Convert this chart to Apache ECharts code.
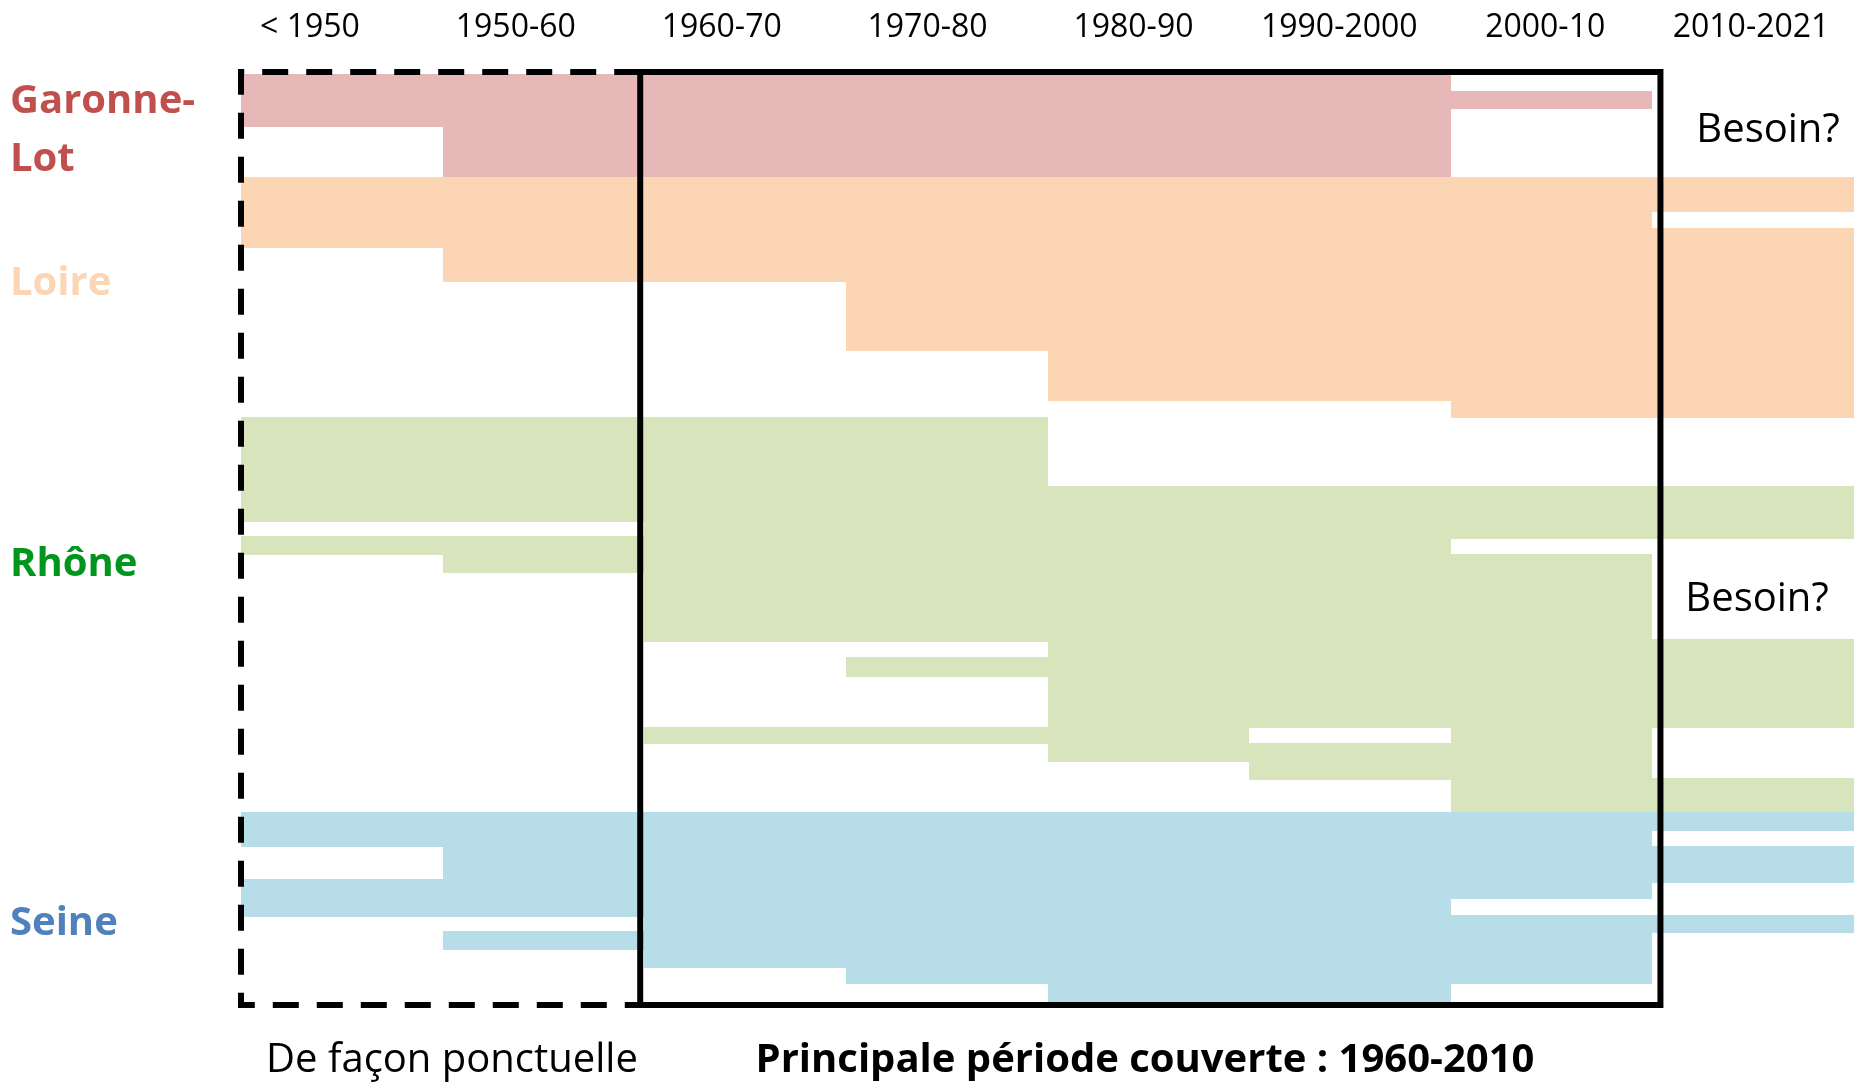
<!DOCTYPE html>
<html>
<head>
<meta charset="utf-8">
<script src="https://cdn.jsdelivr.net/npm/echarts@6/dist/echarts.min.js"></script>
<style>
	html, body { margin: 0; padding: 0; background: #fff; }
	#chart { width: 1861px; height: 1084px; }
</style>
</head>
<body>
<div id="chart"></div>
<script>
'use strict';

// decades (columns 0..7)
var decades = ['< 1950', '1950-60', '1960-70', '1970-80', '1980-90', '1990-2000', '2000-10', '2010-2021'];
var basins = ['Garonne-\nLot', 'Loire', 'Rhône', 'Seine'];

// records: [first column, end column, top rank, bottom rank] (rank axis runs downward)
var garonne = [
	[0, 1, 2, 55], [1, 6, 2, 105], [6, 7, 19, 37]
];
var loire = [
	[0, 1, 105, 176], [1, 3, 105, 210], [3, 4, 105, 279], [4, 6, 105, 329],
	[6, 7, 105, 346], [7, 8, 105, 140], [7, 8, 156, 346]
];
var rhone = [
	[0, 2, 345, 450], [0, 1, 464, 483], [1, 2, 464, 501], [2, 4, 345, 570],
	[3, 4, 585, 605], [2, 4, 655, 672], [4, 5, 414, 690], [5, 6, 414, 656],
	[5, 6, 671, 708], [6, 8, 414, 467], [6, 7, 482, 740], [7, 8, 567, 656],
	[7, 8, 706, 740]
];
var seine = [
	[0, 1, 740, 775], [0, 1, 807, 845], [1, 2, 740, 845], [1, 2, 859, 878],
	[2, 3, 740, 896], [3, 4, 740, 912], [4, 6, 740, 930], [6, 7, 740, 827],
	[6, 7, 843, 912], [7, 8, 740, 759], [7, 8, 774, 811], [7, 8, 843, 861]
];

// periods framed: ponctual (dashed) and main period (solid)
var frames = [[0, 1.98, 0, 933, 'dashed'], [1.98, 7.04, 0, 933, 'solid']];

var fillColors = ['#E6B8B7', '#FCD5B4', '#D8E4BC', '#B7DEE8'];
var labelColors = ['#C0504D', '#FCD5B4', '#00961E', '#4F81BD'];
var FONT = '"Open Sans", sans-serif';

function renderBar(params, api) {
	var p0 = api.coord([api.value(0), api.value(2)]);
	var p1 = api.coord([api.value(1), api.value(3)]);
	var x0 = Math.round(p0[0]), x1 = Math.round(p1[0]);
	var y0 = Math.round(p0[1]), y1 = Math.round(p1[1]);
	return {
		type: 'rect',
		shape: { x: x0, y: y0, width: x1 - x0, height: y1 - y0 },
		style: { fill: api.visual('color') }
	};
}

function renderFrame(params, api) {
	var x0 = api.value(0), x1 = api.value(1), y0 = api.value(2), y1 = api.value(3);
	var dashed = frames[params.dataIndex][4] === 'dashed';
	var a = api.coord([x0, y0]), b = api.coord([x1, y0]);
	var c = api.coord([x1, y1]), d = api.coord([x0, y1]);
	if (dashed) {
		return {
			type: 'polyline',
			shape: { points: [b, a, d, c] },
			style: { stroke: '#000', lineWidth: 6, fill: null, lineDash: [26, 18] }
		};
	}
	return {
		type: 'polygon',
		shape: { points: [a, b, c, d] },
		style: { stroke: '#000', lineWidth: 6, fill: null }
	};
}

var groups = [garonne, loire, rhone, seine];
var series = groups.map(function (d, i) {
	return {
		name: basins[i],
		type: 'custom',
		renderItem: renderBar,
		encode: { x: [0, 1], y: [2, 3] },
		itemStyle: { color: fillColors[i] },
		data: d,
		silent: true
	};
});
series.push({
	type: 'custom',
	renderItem: renderFrame,
	encode: { x: [0, 1], y: [2, 3] },
	data: frames.map(function (f) { return f.slice(0, 4); }),
	z: 10,
	silent: true
});

var basinLabelPos = [[10, 131], [10, 284], [10, 565], [10, 924]];

var graphic = basins.map(function (b, i) {
	return {
		type: 'text',
		left: basinLabelPos[i][0],
		top: basinLabelPos[i][1] - (i === 0 ? 58 : 29),
		style: {
			text: b,
			font: 'bold 40px ' + FONT,
			fill: labelColors[i],
			lineHeight: 58
		}
	};
});
graphic.push(
	{ type: 'text', x: 1768, y: 131, style: { text: 'Besoin?', font: '40px ' + FONT, fill: '#000', textAlign: 'center', textVerticalAlign: 'middle' } },
	{ type: 'text', x: 1757, y: 600, style: { text: 'Besoin?', font: '40px ' + FONT, fill: '#000', textAlign: 'center', textVerticalAlign: 'middle' } },
	{ type: 'text', x: 452, y: 1061, style: { text: 'De façon ponctuelle', font: '40px ' + FONT, fill: '#000', textAlign: 'center', textVerticalAlign: 'middle' } },
	{ type: 'text', x: 1145, y: 1061, style: { text: 'Principale période couverte : 1960-2010', font: 'bold 40px ' + FONT, fill: '#000', textAlign: 'center', textVerticalAlign: 'middle' } }
);

var option = {
	animation: false,
	backgroundColor: '#fff',
	grid: [
		{ left: 241, right: 7, top: 72, bottom: 79 },
		{ left: 207, right: 7, top: 72, bottom: 79 }
	],
	xAxis: [
		{ type: 'value', gridIndex: 0, min: 0, max: 8, show: false },
		{
			type: 'category', gridIndex: 1, position: 'top', data: decades,
			axisLine: { show: false }, axisTick: { show: false }, splitLine: { show: false },
			axisLabel: { color: '#000', fontSize: 32, fontFamily: FONT, margin: 28 }
		}
	],
	yAxis: [
		{ type: 'value', gridIndex: 0, min: 0, max: 933, inverse: true, show: false },
		{ type: 'value', gridIndex: 1, show: false }
	],
	series: series,
	graphic: graphic
};

var chart = echarts.init(document.getElementById('chart'));
chart.setOption(option);
</script>
</body>
</html>
